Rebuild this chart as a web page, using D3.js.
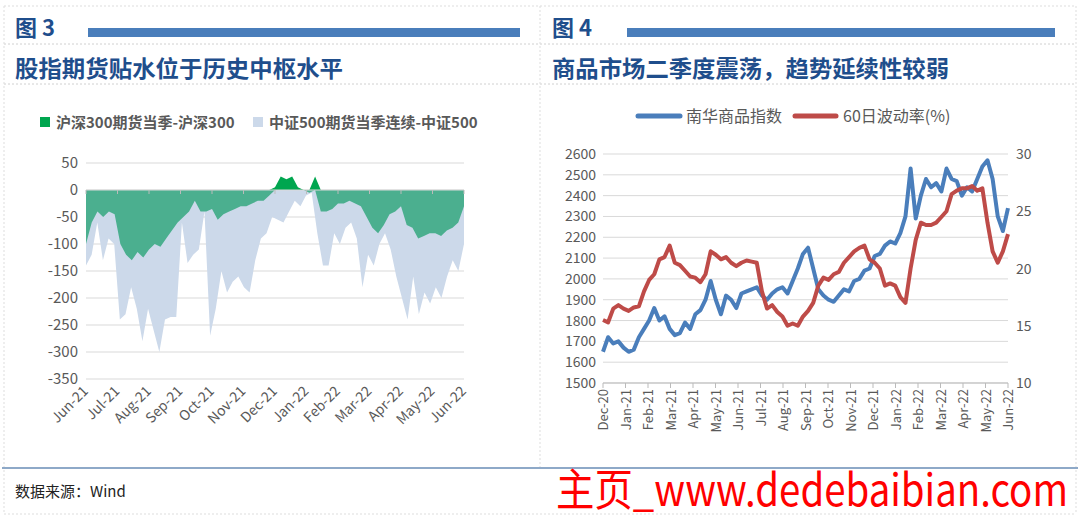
<!DOCTYPE html>
<html><head><meta charset="utf-8">
<script src="https://cdn.jsdelivr.net/npm/d3@7"></script>
<style>body{margin:0;background:#fff;}svg{display:block;font-family:"Noto Sans CJK SC","Noto Sans",sans-serif;}</style>
</head><body><svg id="c" width="1080" height="518"></svg>
<script>
// ---------- data ----------
const leftMonths = ["Jun-21","Jul-21","Aug-21","Sep-21","Oct-21","Nov-21","Dec-21","Jan-22","Feb-22","Mar-22","Apr-22","May-22","Jun-22"];
const leftTicks = [50,0,-50,-100,-150,-200,-250,-300,-350];
const hs300 = [-100,-60,-40,-50,-40,-45,-100,-120,-130,-115,-125,-110,-100,-105,-90,-75,-60,-50,-40,-20,-40,-40,-35,-55,-45,-40,-35,-30,-30,-25,-20,-20,-10,5,25,20,25,5,0,-5,25,-40,-40,-35,-25,-25,-20,-25,-30,-50,-70,-80,-65,-45,-40,-30,-65,-70,-90,-85,-80,-80,-85,-75,-70,-60,-30];
const csi500 = [-140,-120,-60,-130,-90,-100,-240,-230,-180,-220,-280,-220,-260,-300,-240,-235,-235,-60,-135,-120,-110,-40,-270,-220,-150,-190,-170,-160,-180,-190,-130,-90,-80,-50,-55,-60,-40,-20,-30,-10,-5,-80,-140,-140,-80,-100,-70,-60,-90,-180,-120,-140,-100,-80,-110,-160,-200,-240,-160,-230,-190,-210,-180,-200,-160,-130,-150,-100];
const rightMonths = ["Dec-20","Jan-21","Feb-21","Mar-21","Apr-21","May-21","Jun-21","Jul-21","Aug-21","Sep-21","Oct-21","Nov-21","Dec-21","Jan-22","Feb-22","Mar-22","Apr-22","May-22","Jun-22"];
const leftAxisTicks = [1500,1600,1700,1800,1900,2000,2100,2200,2300,2400,2500,2600];
const rightAxisTicks = [10,15,20,25,30];
const nanhua = [1650,1720,1690,1700,1670,1650,1660,1720,1760,1800,1860,1800,1820,1760,1730,1740,1790,1760,1830,1850,1900,1990,1900,1830,1920,1900,1860,1930,1940,1950,1960,1920,1900,1930,1950,1960,1930,1990,2050,2120,2150,2050,1950,1920,1900,1890,1920,1950,1940,1990,2000,2040,2050,2110,2120,2160,2180,2170,2220,2300,2530,2290,2400,2480,2440,2460,2420,2530,2480,2470,2400,2440,2420,2480,2540,2570,2480,2300,2230,2340];
const vol = [15.5,15.3,16.5,16.8,16.5,16.3,16.6,16.7,18,19,19.5,20.8,21,22,20.5,20.3,19.8,19.3,19.2,18.8,19.5,21.5,21.2,20.8,21,20.5,20.2,20.5,20.7,20.6,20.5,18,16.5,16.8,16.2,15.8,15,15.2,15,15.8,16.3,17,18.5,19.2,19,19.5,19.7,20.5,21,21.5,21.8,22,20.8,20.5,20,18.5,18.7,18.5,17.5,17,20,22.5,24,23.8,23.8,24,24.5,25,26.5,26.8,27,27,27.2,26.8,27,24,21.5,20.5,21.5,23];

const svg = d3.select("#c");
const grey = "#595959", navy = "#1F4E8C";

// ---------- frame ----------
const dash = "2,2";
svg.append("line").attr("x1",4).attr("x2",1076).attr("y1",6).attr("y2",6).attr("stroke","#ddd").attr("stroke-dasharray",dash);
[44,84].forEach(y=>svg.append("line").attr("x1",4).attr("x2",1076).attr("y1",y).attr("y2",y).attr("stroke","#d0d0d0").attr("stroke-dasharray",dash));
svg.append("line").attr("x1",540).attr("x2",540).attr("y1",6).attr("y2",468).attr("stroke","#ddd").attr("stroke-dasharray",dash);
svg.append("line").attr("x1",4).attr("x2",4).attr("y1",6).attr("y2",514).attr("stroke","#ddd").attr("stroke-dasharray",dash);
svg.append("line").attr("x1",1076).attr("x2",1076).attr("y1",6).attr("y2",514).attr("stroke","#ddd").attr("stroke-dasharray",dash);
svg.append("line").attr("x1",4).attr("x2",1076).attr("y1",514).attr("y2",514).attr("stroke","#ddd").attr("stroke-dasharray",dash);
svg.append("line").attr("x1",2).attr("x2",1078).attr("y1",468).attr("y2",468).attr("stroke","#8EA9C8").attr("stroke-width",2);

[[15,"图 3",88,520,"股指期货贴水位于历史中枢水平",328],[552,"图 4",627,1055,"商品市场二季度震荡，趋势延续性较弱",397]].forEach(([x,t,b0,b1,title,tl])=>{
  svg.append("text").attr("x",x).attr("y",36).attr("fill",navy).attr("font-size",22).attr("font-weight","bold").text(t);
  svg.append("rect").attr("x",b0).attr("y",28).attr("width",b1-b0).attr("height",9).attr("fill","#4A7EBB");
  svg.append("text").attr("x",x).attr("y",77).attr("fill",navy).attr("font-size",23).attr("font-weight","bold")
    .attr("textLength",tl).attr("lengthAdjust","spacingAndGlyphs").text(title);
});
svg.append("text").attr("x",15).attr("y",497).attr("fill","#222").attr("font-size",15).text("数据来源：Wind");
svg.append("text").attr("x",556).attr("y",506).attr("fill","#FF0000").attr("font-size",44).attr("textLength",512).attr("lengthAdjust","spacingAndGlyphs").text("主页_www.dedebaibian.com");

// ---------- left chart ----------
{
  const x0=86,x1=464;
  const y = d3.scaleLinear().domain([-350,50]).range([379,163]);
  const xm = d3.scaleLinear().domain([0,leftMonths.length-1]).range([x0,x1]);
  const xa = d3.scaleLinear().domain([0,csi500.length-1]).range([x0,x1]);
  const xg = d3.scaleLinear().domain([0,hs300.length-1]).range([x0,x1]);
  const g = svg.append("g");
  leftTicks.forEach(t=>{
    g.append("line").attr("x1",x0).attr("x2",x1).attr("y1",y(t)).attr("y2",y(t)).attr("stroke","#d9d9d9");
    g.append("text").attr("x",78).attr("y",y(t)+5).attr("text-anchor","end").attr("fill",grey).attr("font-size",15).text(t);
  });
  g.append("path").datum(csi500).attr("fill","#CCD9EA")
    .attr("d",d3.area().x((d,i)=>xa(i)).y0(y(0)).y1(d=>y(d)));
  g.append("path").datum(hs300).attr("fill","#4BAF8F")
    .attr("d",d3.area().x((d,i)=>xg(i)).y0(y(0)).y1(d=>y(Math.min(d,0))));
  g.append("path").datum(hs300).attr("fill","#00A64F")
    .attr("d",d3.area().x((d,i)=>xg(i)).y0(y(0)).y1(d=>y(Math.max(d,0))));
  g.append("line").attr("x1",x0).attr("x2",x1).attr("y1",y(0)).attr("y2",y(0)).attr("stroke","#d9d9d9");
  leftMonths.forEach((m,i)=>{
    g.append("line").attr("x1",xm(i)).attr("x2",xm(i)).attr("y1",y(0)).attr("y2",y(0)+4).attr("stroke","#bbb");
    g.append("text").attr("transform",`translate(${xm(i)+3},${392}) rotate(-45)`).attr("text-anchor","end").attr("fill",grey).attr("font-size",14).text(m);
  });
  // legend
  g.append("rect").attr("x",40).attr("y",117).attr("width",10).attr("height",10).attr("fill","#00A64F");
  g.append("text").attr("x",56).attr("y",128).attr("fill",grey).attr("font-size",15).attr("font-weight","bold").text("沪深300期货当季-沪深300");
  g.append("rect").attr("x",253).attr("y",117).attr("width",10).attr("height",10).attr("fill","#CCD9EA");
  g.append("text").attr("x",269).attr("y",128).attr("fill",grey).attr("font-size",15).attr("font-weight","bold").text("中证500期货当季连续-中证500");
}

// ---------- right chart ----------
{
  const x0=603,x1=1008;
  const yL = d3.scaleLinear().domain([1500,2600]).range([383,154]);
  const yR = d3.scaleLinear().domain([10,30]).range([383,154]);
  const xm = d3.scaleLinear().domain([0,rightMonths.length-1]).range([x0,x1]);
  const xn = d3.scaleLinear().domain([0,nanhua.length-1]).range([x0,x1]);
  const xv = d3.scaleLinear().domain([0,vol.length-1]).range([x0,x1]);
  const g = svg.append("g");
  leftAxisTicks.forEach(t=>{
    g.append("line").attr("x1",x0).attr("x2",x1).attr("y1",yL(t)).attr("y2",yL(t)).attr("stroke","#d9d9d9");
    g.append("text").attr("x",596).attr("y",yL(t)+5).attr("text-anchor","end").attr("fill",grey).attr("font-size",14).text(t);
  });
  rightAxisTicks.forEach(t=>g.append("text").attr("x",1016).attr("y",yR(t)+5).attr("fill",grey).attr("font-size",14).text(t));
  g.append("line").attr("x1",x0).attr("x2",x1).attr("y1",383).attr("y2",383).attr("stroke","#bbb");
  rightMonths.forEach((m,i)=>{
    g.append("line").attr("x1",xm(i)).attr("x2",xm(i)).attr("y1",383).attr("y2",388).attr("stroke","#bbb");
    g.append("text").attr("transform",`translate(${xm(i)+5},${389}) rotate(-90)`).attr("text-anchor","end").attr("fill",grey).attr("font-size",13).text(m);
  });
  g.append("path").datum(nanhua).attr("fill","none").attr("stroke","#4A7EBB").attr("stroke-width",4).attr("stroke-linejoin","round")
    .attr("d",d3.line().x((d,i)=>xn(i)).y(d=>yL(d)));
  g.append("path").datum(vol).attr("fill","none").attr("stroke","#BE4B48").attr("stroke-width",4).attr("stroke-linejoin","round")
    .attr("d",d3.line().x((d,i)=>xv(i)).y(d=>yR(d)));
  g.append("line").attr("x1",638).attr("x2",680).attr("y1",116).attr("y2",116).attr("stroke","#4A7EBB").attr("stroke-width",5).attr("stroke-linecap","round");
  g.append("text").attr("x",686).attr("y",122).attr("fill",grey).attr("font-size",16).text("南华商品指数");
  g.append("line").attr("x1",795).attr("x2",836).attr("y1",116).attr("y2",116).attr("stroke","#BE4B48").attr("stroke-width",5).attr("stroke-linecap","round");
  g.append("text").attr("x",843).attr("y",122).attr("fill",grey).attr("font-size",16).text("60日波动率(%)");
}
</script></body></html>
